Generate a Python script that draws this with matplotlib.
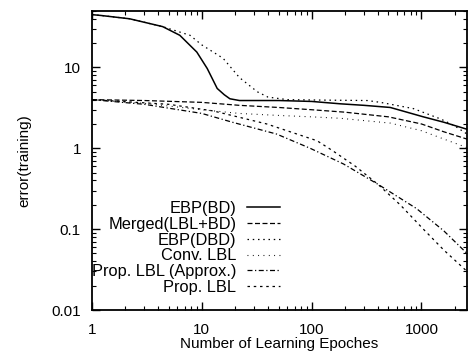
import matplotlib
matplotlib.use("Agg")
import matplotlib.pyplot as plt
from matplotlib.ticker import FixedLocator, FixedFormatter, LogLocator, NullFormatter

plt.rcParams["font.family"] = ["Liberation Sans", "DejaVu Sans"]

# ----------------------------
# values
# ----------------------------

ebp_bd_x = [1, 1.2, 2.2, 4.4, 6.3, 9, 11.2, 13.8, 16, 18, 22, 30, 50, 100, 183, 300, 520, 1040, 1600, 2600]
ebp_bd_y = [45, 44, 40, 32, 25, 15.5, 9.7, 5.5, 4.6, 4.1, 3.9, 3.9, 3.9, 3.8, 3.55, 3.4, 3.2, 2.45, 2.1, 1.72]

merged_x = [1, 3, 10, 22, 50, 100, 200, 500, 1000, 1600, 2600]
merged_y = [4.0, 3.9, 3.7, 3.4, 3.2, 3.0, 2.8, 2.45, 2.0, 1.6, 1.3]

ebp_dbd_x = [1, 1.2, 2.2, 4.4, 7.8, 10, 15.6, 22, 32, 40, 60, 120, 320, 424, 843, 1500, 2000, 2600]
ebp_dbd_y = [45, 44, 40, 32, 25, 19, 13, 7.5, 5.0, 4.3, 4.0, 3.95, 3.9, 3.7, 3.1, 2.3, 1.9, 1.5]

conv_x = [1, 3, 10, 22, 50, 100, 183, 520, 1000, 1600, 2600]
conv_y = [4.0, 3.6, 3.0, 2.7, 2.55, 2.45, 2.35, 2.05, 1.65, 1.3, 1.02]

approx_x = [1, 3, 10, 19, 48, 97, 195, 400, 900, 1600, 2600]
approx_y = [4.0, 3.5, 2.7, 2.1, 1.5, 1.0, 0.64, 0.36, 0.18, 0.095, 0.05]

prop_x = [1, 5, 12.7, 39, 112, 156, 250, 400, 640, 1040, 1600, 2600]
prop_y = [4.0, 3.5, 2.9, 2.0, 1.24, 0.93, 0.6, 0.36, 0.2, 0.10, 0.055, 0.03]

x_ticks = [1, 10, 100, 1000]
x_labels = ["1", "10", "100", "1000"]
y_ticks = [0.01, 0.1, 1, 10]
y_labels = ["0.01", "0.1", "1", "10"]

# ----------------------------
# plot
# ----------------------------

fig = plt.figure(figsize=(4.68, 3.51), dpi=100)
ax = fig.add_axes([0.1966, 0.1168, 0.8014, 0.852])

ax.plot(ebp_bd_x, ebp_bd_y, color="black", lw=1.1, ls="-", label="EBP(BD)")
ax.plot(merged_x, merged_y, color="black", lw=0.9, ls=(0, (4, 2)), label="Merged(LBL+BD)")
ax.plot(ebp_dbd_x, ebp_dbd_y, color="black", lw=0.9, ls=(0, (1.2, 3)), label="EBP(DBD)")
ax.plot(conv_x, conv_y, color="black", lw=0.8, ls=(0, (0.8, 4)), label="Conv. LBL")
ax.plot(approx_x, approx_y, color="black", lw=0.9, ls=(0, (4, 2, 1, 2)), label="Prop. LBL (Approx.)")
ax.plot(prop_x, prop_y, color="black", lw=0.9, ls=(0, (2, 3)), label="Prop. LBL")

ax.set_xscale("log")
ax.set_yscale("log")
ax.set_xlim(1, 2600)
ax.set_ylim(0.01, 50)

ax.xaxis.set_major_locator(FixedLocator(x_ticks))
ax.xaxis.set_major_formatter(FixedFormatter(x_labels))
ax.yaxis.set_major_locator(FixedLocator(y_ticks))
ax.yaxis.set_major_formatter(FixedFormatter(y_labels))
ax.xaxis.set_minor_locator(LogLocator(base=10, subs=range(2, 10)))
ax.yaxis.set_minor_locator(LogLocator(base=10, subs=range(2, 10)))
ax.xaxis.set_minor_formatter(NullFormatter())
ax.yaxis.set_minor_formatter(NullFormatter())

ax.tick_params(which="both", direction="in", top=True, right=True)
ax.tick_params(which="major", length=6, width=1.0, labelsize=11)
ax.tick_params(which="minor", length=3, width=0.8)
ax.tick_params(axis="x", which="major", pad=9)
ax.tick_params(axis="y", which="major", pad=8)

for s in ax.spines.values():
    s.set_linewidth(1.3)

ax.set_xlabel("Number of Learning Epoches", fontsize=11, labelpad=0)
ax.set_ylabel("error(training)", fontsize=11, labelpad=14)

ax.legend(loc="lower left", bbox_to_anchor=(0.0, 0.05), markerfirst=False,
          frameon=False, fontsize=11.8, labelspacing=0.05, handlelength=2.0,
          handletextpad=0.65, borderaxespad=0.0, borderpad=0.0)

fig.savefig("out.png", dpi=100)
